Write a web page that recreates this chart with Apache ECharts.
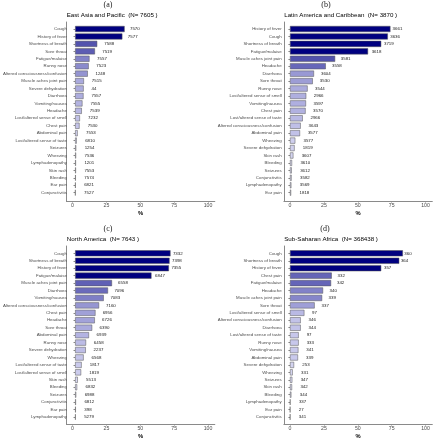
<!DOCTYPE html>
<html>
<head>
<meta charset="utf-8">
<script src="https://cdn.jsdelivr.net/npm/echarts@6/dist/echarts.min.js"></script>
<style>html,body{margin:0;padding:0;background:#fff}#c{width:433px;height:440px}</style>
</head>
<body>
<div id="c"></div>
<script>
// ---------- data ----------
const panelTags = ['(a)', '(b)', '(c)', '(d)'];
const panelTitles = [
  'East Asia and Pacific  (N= 7605 )',
  'Latin America and Caribbean  (N= 3870 )',
  'North America  (N= 7643 )',
  'Sub-Saharan Africa  (N= 368438 )'
];
const xTicks = [0, 25, 50, 75, 100];
const xLabel = '%';

const catsA = ['Cough','History of fever','Shortness of breath','Sore throat','Fatigue/malaise','Runny nose','Altered consciousness/confusion','Muscle aches joint pain','Severe dehydration','Diarrhoea','Vomiting/nausea','Headache','Lost/altered sense of smell','Chest pain','Abdominal pain','Lost/altered sense of taste','Seizures','Wheezing','Lymphadenopathy','Skin rash','Bleeding','Ear pain','Conjunctivitis'];
const pctA = [37.2,35.5,16.6,14.9,10.8,10.2,9.5,6.6,6.4,6.3,5.5,5.0,3.6,3.3,1.9,1.2,0.8,0.7,0.6,0.6,0.5,0.4,0.3];
const nA = [7570,7577,7588,7519,7557,7523,1248,7515,44,7557,7555,7539,7232,7530,7553,6810,1254,7536,1201,7553,7574,6821,7527];

const catsB = ['History of fever','Cough','Shortness of breath','Fatigue/malaise','Muscle aches joint pain','Headache','Diarrhoea','Sore throat','Runny nose','Lost/altered sense of smell','Vomiting/nausea','Chest pain','Lost/altered sense of taste','Altered consciousness/confusion','Abdominal pain','Wheezing','Severe dehydration','Skin rash','Bleeding','Seizures','Conjunctivitis','Lymphadenopathy','Ear pain'];
const pctB = [74.1,72.2,67.3,57.6,33.3,26.4,17.7,16.8,13.0,12.0,11.8,11.5,9.4,7.9,7.4,3.9,3.4,2.5,1.5,1.3,1.2,1.0,0.8];
const nB = [3661,3636,3719,3618,3581,3558,3604,3530,3544,2966,3597,3570,2966,3643,3577,3577,1819,3607,3610,3612,3582,3569,1818];

const catsC = ['Cough','Shortness of breath','History of fever','Fatigue/malaise','Muscle aches joint pain','Diarrhoea','Vomiting/nausea','Altered consciousness/confusion','Chest pain','Headache','Sore throat','Abdominal pain','Runny nose','Severe dehydration','Wheezing','Lost/altered sense of taste','Lost/altered sense of smell','Skin rash','Bleeding','Seizures','Conjunctivitis','Ear pain','Lymphadenopathy'];
const pctC = [71.7,71.0,70.5,57.4,27.7,24.7,21.5,18.0,15.3,14.8,12.8,10.4,8.2,8.0,6.4,4.9,4.5,2.0,1.5,0.8,0.6,0.5,0.4];
const nC = [7332,7398,7355,6847,6558,7096,7083,7160,6956,6726,6390,6939,6458,2237,6568,1817,1819,5513,6832,6988,6812,398,5279];

const catsD = ['Cough','Shortness of breath','History of fever','Chest pain','Fatigue/malaise','Headache','Muscle aches joint pain','Sore throat','Lost/altered sense of smell','Altered consciousness/confusion','Diarrhoea','Lost/altered sense of taste','Runny nose','Vomiting/nausea','Abdominal pain','Severe dehydration','Wheezing','Seizures','Skin rash','Bleeding','Lymphadenopathy','Ear pain','Conjunctivitis'];
const pctD = [83.3,80.6,67.3,30.8,30.3,24.4,23.7,18.2,10.6,7.9,7.9,6.4,6.4,6.2,5.9,3.0,2.0,1.7,1.5,1.0,0.3,0.2,0.2];
const nD = [360,364,357,332,342,340,339,337,97,346,344,97,333,341,339,253,331,347,342,344,337,27,341];

// ---------- styling / layout ----------
const FONT = "'Liberation Sans', Arial, sans-serif";
const XMIN = -4.5, XMAX = 105;
const panels = [
  {cats: catsA, pct: pctA, n: nA, left: 66.4, barTop: 25.3, axTop: 22, axBottom: 201, tagX: 108, tagY: 4.5, titleY: 15},
  {cats: catsB, pct: pctB, n: nB, left: 283.9, barTop: 25.3, axTop: 22, axBottom: 201, tagX: 326, tagY: 4.5, titleY: 15},
  {cats: catsC, pct: pctC, n: nC, left: 66.4, barTop: 249.6, axTop: 246, axBottom: 424, tagX: 108, tagY: 229, titleY: 239.3},
  {cats: catsD, pct: pctD, n: nD, left: 283.9, barTop: 249.6, axTop: 246, axBottom: 424, tagX: 325, tagY: 229, titleY: 239.3}
];
const PW = 148.4, BAR_H = 171.1;

const stops = [
  [0.00, [222,222,245]],
  [0.15, [178,178,225]],
  [0.25, [150,150,210]],
  [0.35, [104,104,186]],
  [0.45, [82,82,172]],
  [0.60, [0,0,128]],
  [1.00, [0,0,128]]
];
function fillFor(v, max) {
  const t = v / max;
  for (let i = 1; i < stops.length; i++) {
    if (t <= stops[i][0]) {
      const a = stops[i-1], b = stops[i];
      const f = (t - a[0]) / (b[0] - a[0]);
      const c = a[1].map((x, k) => Math.round(x + (b[1][k] - x) * f));
      return 'rgb(' + c.join(',') + ')';
    }
  }
  return 'rgb(0,0,128)';
}

const grid = [], xAxis = [], yAxis = [], series = [], graphic = [];
panels.forEach((p, k) => {
  const ga = grid.length;
  grid.push({left: p.left, top: p.axTop, width: PW, height: p.axBottom - p.axTop, containLabel: false});
  xAxis.push({
    gridIndex: ga, type: 'value', min: XMIN, max: XMAX,
    axisLine: {show: true, onZero: false, lineStyle: {color: '#8a8a8a', width: 1}},
    axisTick: {show: true, customValues: xTicks, length: 1.5, lineStyle: {color: '#8a8a8a'}},
    axisLabel: {show: true, customValues: xTicks, fontSize: 5.2, color: '#4d4d4d', margin: 1.8, fontFamily: FONT},
    splitLine: {show: false},
    name: xLabel, nameLocation: 'middle', nameGap: 9,
    nameTextStyle: {fontSize: 5.8, fontWeight: 'bold', color: '#000', fontFamily: FONT}
  });
  yAxis.push({
    gridIndex: ga, type: 'value', min: 0, max: 1,
    axisLine: {show: true, onZero: false, lineStyle: {color: '#8a8a8a', width: 1}},
    axisTick: {show: false}, axisLabel: {show: false}, splitLine: {show: false}
  });
  const gb = grid.length;
  grid.push({left: p.left, top: p.barTop, width: PW, height: BAR_H, containLabel: false});
  xAxis.push({gridIndex: gb, type: 'value', min: XMIN, max: XMAX, show: false});
  yAxis.push({
    gridIndex: gb, type: 'category', inverse: true, data: p.cats,
    axisLine: {show: false},
    axisTick: {show: true, length: 1.6, alignWithLabel: true, lineStyle: {color: '#8a8a8a'}},
    axisLabel: {fontSize: 4.4, color: '#4d4d4d', margin: 2.2, fontFamily: FONT, interval: 0}
  });
  const max = Math.max(...p.pct);
  series.push({
    type: 'bar', xAxisIndex: gb, yAxisIndex: gb,
    barCategoryGap: '18%',
    data: p.pct.map(v => ({
      value: v,
      itemStyle: {color: fillFor(v, max)},
      label: {distance: 8.5 - 0.085 * v}
    })),
    itemStyle: {borderColor: '#555', borderWidth: 0.5},
    label: {
      show: true, position: 'right', fontSize: 4.4, color: '#1a1a1a', fontFamily: FONT,
      formatter: (prm) => String(p.n[prm.dataIndex])
    },
    emphasis: {disabled: true},
    animation: false
  });
  graphic.push({
    type: 'text', x: p.tagX, y: p.tagY,
    style: {text: panelTags[k], align: 'center', verticalAlign: 'middle', font: "8px 'Liberation Serif', 'Times New Roman', serif", fill: '#1a1a1a'}
  });
  graphic.push({
    type: 'text', x: p.left + 0.3, y: p.titleY,
    style: {text: panelTitles[k], align: 'left', verticalAlign: 'middle', font: "6.2px " + FONT, fill: '#000'}
  });
});

const chart = echarts.init(document.getElementById('c'), null, {renderer: 'canvas'});
chart.setOption({
  animation: false,
  backgroundColor: '#fff',
  grid, xAxis, yAxis, series, graphic
});
</script>
</body>
</html>
